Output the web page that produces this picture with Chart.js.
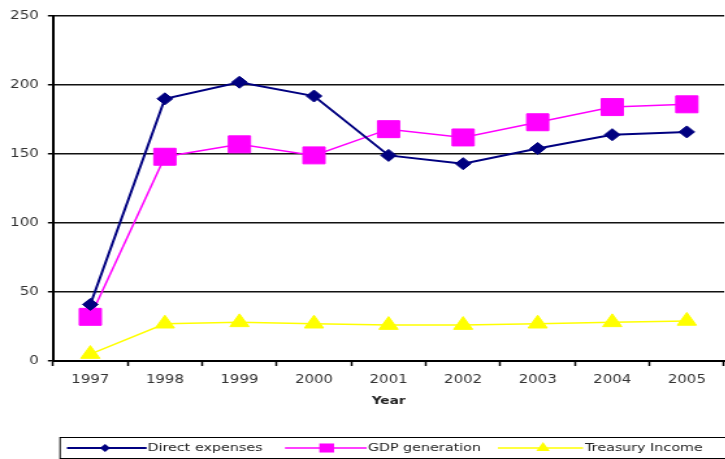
<!DOCTYPE html>
<html><head><meta charset="utf-8">
<script src="https://cdn.jsdelivr.net/npm/chart.js@4"></script>
<style>
html,body{margin:0;padding:0;background:#fff;overflow:hidden;width:725px;height:459px}
#wrap{position:absolute;left:0;top:0;width:570px;height:459px;transform:scaleX(1.3);transform-origin:0 0}
canvas{display:block}
</style></head><body>
<div id="wrap"><canvas id="c" width="570" height="459" style="width:570px;height:459px"></canvas></div>
<script>
const years = ['1997','1998','1999','2000','2001','2002','2003','2004','2005'];
const directExpenses = [41, 190, 202, 192, 149, 143, 154, 164, 166];
const gdpGeneration = [32, 148, 157, 149, 168, 162, 173, 184, 186];
const treasuryIncome = [5, 27, 28, 27, 26, 26, 27, 28, 29];
const seriesNames = ['Direct expenses', 'GDP generation', 'Treasury Income'];
const yMin = 0, yMax = 250, yStep = 50;

const FONT = 'DejaVu Sans';

const legendPlugin = {
  id: 'excelLegend',
  afterDraw(chart) {
    const ctx = chart.ctx;
    const top = 437, h = 21, cy = 448;
    ctx.save();
    ctx.strokeStyle = '#000';
    ctx.lineWidth = 1;
    ctx.strokeRect(46.2, top + 0.5, 520, h);
    const layout = [
      {x0: 51.5, x1: 112.8, mx: 80.8, tx: 113.5, r: 4},
      {x0: 219.2, x1: 282, mx: 251.3, tx: 283, r: 8},
      {x0: 383, x1: 448.5, mx: 417.7, tx: 450, r: 6}
    ];
    chart.data.datasets.forEach((ds, i) => {
      const L = layout[i];
      ctx.strokeStyle = ds.borderColor;
      ctx.lineWidth = ds.borderWidth;
      ctx.beginPath(); ctx.moveTo(L.x0, cy); ctx.lineTo(L.x1, cy); ctx.stroke();
      ctx.fillStyle = ds.backgroundColor;
      ctx.beginPath();
      if (ds.pointStyle === 'rectRot') {
        ctx.moveTo(L.mx - L.r, cy); ctx.lineTo(L.mx, cy - L.r); ctx.lineTo(L.mx + L.r, cy); ctx.lineTo(L.mx, cy + L.r); ctx.closePath();
      } else if (ds.pointStyle === 'rect') {
        const s = L.r * Math.SQRT1_2;
        ctx.rect(L.mx - s, cy - s * 0.8, 2 * s, 2 * s * 0.8);
      } else {
        const w = L.r * Math.sqrt(3) / 2;
        ctx.moveTo(L.mx, cy - L.r); ctx.lineTo(L.mx + w, cy + L.r / 2); ctx.lineTo(L.mx - w, cy + L.r / 2); ctx.closePath();
      }
      ctx.fill();
      ctx.fillStyle = '#222';
      ctx.font = '11px "' + FONT + '"';
      ctx.textBaseline = 'middle';
      ctx.textAlign = 'left';
      ctx.fillText(ds.label, L.tx, cy + 0.5);
    });
    ctx.restore();
  }
};

new Chart(document.getElementById('c'), {
  type: 'line',
  data: {
    labels: years,
    datasets: [
      {label: seriesNames[0], data: directExpenses, borderColor: '#000080', backgroundColor: '#000080',
       borderWidth: 2, pointStyle: 'rectRot', pointRadius: 6, pointBorderWidth: 1, tension: 0},
      {label: seriesNames[1], data: gdpGeneration, borderColor: '#FF00FF', backgroundColor: '#FF00FF',
       borderWidth: 1.5, pointStyle: 'rect', pointRadius: 12, pointBorderWidth: 1, tension: 0},
      {label: seriesNames[2], data: treasuryIncome, borderColor: '#FFFF00', backgroundColor: '#FFFF00',
       borderWidth: 1.5, pointStyle: 'triangle', pointRadius: 8.5, pointBorderWidth: 1, tension: 0}
    ]
  },
  options: {
    responsive: false,
    animation: false,
    devicePixelRatio: 1,
    layout: {padding: {left: 0, right: 3, top: 16, bottom: 51.7}},
    plugins: {legend: {display: false}, tooltip: {enabled: false}},
    scales: {
      x: {
        offset: true,
        grid: {offset: true, drawOnChartArea: false, drawTicks: true, tickLength: 5, tickColor: '#000', tickWidth: 1.5},
        border: {color: '#000', width: 2},
        ticks: {color: '#333', font: {family: FONT, size: 11.5}, padding: 7, maxRotation: 0, autoSkip: false},
        title: {display: true, text: 'Year', color: '#222', font: {family: FONT, size: 10.5, weight: 'bold'}, padding: {top: 0.9, bottom: 0}}
      },
      y: {
        min: yMin, max: yMax,
        afterFit(scale) { scale.width = 40.8; },
        grid: {color: '#111', lineWidth: 1.5, drawTicks: true, tickLength: 4, tickColor: '#000', tickWidth: 1.5},
        border: {color: '#000', width: 2},
        ticks: {stepSize: yStep, color: '#333', font: {family: FONT, size: 11.5}, padding: 7}
      }
    }
  },
  plugins: [legendPlugin]
});
</script>
</body></html>
